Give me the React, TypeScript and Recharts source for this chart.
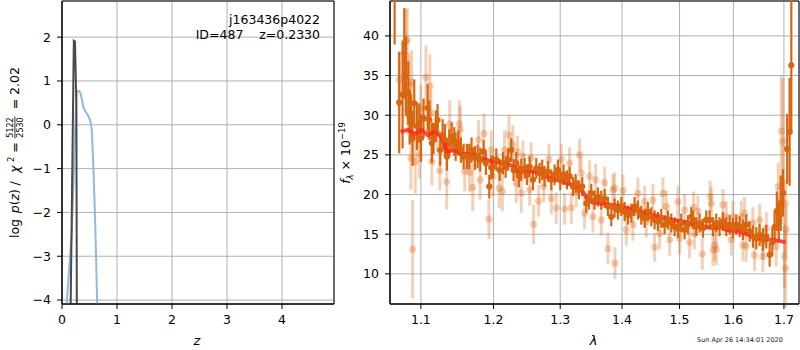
import {
  CartesianGrid,
  ComposedChart,
  ErrorBar,
  Line,
  LineChart,
  ReferenceArea,
  Scatter,
  XAxis,
  YAxis,
} from "recharts";

// left panel: log p(z)
const zTicks = [0, 1, 2, 3, 4];
const logpTicks = [-4, -3, -2, -1, 0, 1, 2];
const pzCurve: [number, number][] = [
  [0.055, -4.6], [0.085, -4.09], [0.13, -3.3], [0.176, -2.5], [0.21, -1.3], [0.236, -0.2],
  [0.255, 0.45], [0.267, 0.72], [0.285, 0.77], [0.31, 0.77], [0.335, 0.72], [0.358, 0.6],
  [0.385, 0.42], [0.418, 0.32], [0.46, 0.24], [0.497, 0.15], [0.52, 0.06], [0.54, -0.1],
  [0.555, -0.5], [0.57, -0.96], [0.585, -1.5], [0.6, -2.1], [0.615, -2.8], [0.63, -3.6],
  [0.64, -4.1], [0.65, -4.6],
];
const chi2Curve: [number, number][] = [
  [0.15, -4.6], [0.158, -4.09], [0.215, 1.92], [0.236, 1.9], [0.262, 0.4], [0.27, -4.6],
];

// right panel: spectrum
const lamTicks = [1.1, 1.2, 1.3, 1.4, 1.5, 1.6, 1.7];
const fluxTicks = [10, 15, 20, 25, 30, 35, 40];

// [lambda, flux, err]
const darkPoints: [number, number, number][] = [
  [1.0659, 45.5, 6.6], [1.0718, 31.6, 6.4], [1.0761, 32.6, 6.8], [1.0783, 37.8, 5.7],
  [1.0804, 34.9, 5.0], [1.0835, 32.8, 4.0], [1.0852, 29.8, 3.5], [1.0869, 29.6, 3.0],
  [1.0891, 27.1, 3.5], [1.0913, 31.5, 3.0], [1.0948, 28.6, 3.0], [1.0979, 29.0, 2.5],
  [1.1, 27.1, 3.0], [1.1035, 29.6, 2.5], [1.1089, 30.9, 3.0], [1.1111, 29.4, 2.5],
  [1.1146, 26.5, 2.5], [1.1168, 27.1, 2.0], [1.12, 28.6, 2.0], [1.1222, 29.4, 2.0],
  [1.1258, 25.6, 2.0], [1.129, 27.5, 2.0], [1.1322, 26.9, 2.0], [1.1349, 24.8, 1.8],
  [1.1381, 26.5, 1.8], [1.1413, 27.3, 1.8], [1.1449, 26.7, 1.8], [1.1468, 26.05, 1.8],
  [1.1504, 26.5, 1.6], [1.1541, 25.6, 1.6], [1.1578, 24.8, 1.6], [1.1624, 24.8, 1.6],
  [1.1657, 24.8, 1.6], [1.1689, 25.6, 1.6], [1.1736, 24.6, 1.5], [1.1774, 24.8, 1.5],
  [1.1811, 24.4, 1.5], [1.1859, 25.4, 1.5], [1.1892, 23.95, 1.5], [1.194, 21.0, 1.5],
  [1.1968, 23.4, 1.5], [1.1992, 23.5, 1.4], [1.2041, 24.4, 1.4], [1.2089, 23.1, 1.4],
  [1.2137, 23.95, 1.4], [1.2176, 23.5, 1.4], [1.221, 24.4, 1.4], [1.2259, 25.6, 1.5],
  [1.2293, 23.1, 1.4], [1.2333, 23.95, 1.4], [1.2372, 22.3, 1.4], [1.2407, 23.1, 1.4],
  [1.2457, 23.3, 1.3], [1.2491, 22.5, 1.3], [1.2532, 23.5, 1.3], [1.2582, 21.85, 1.3],
  [1.2632, 23.3, 1.3], [1.2683, 22.7, 1.3], [1.2723, 23.1, 1.3], [1.2759, 22.3, 1.3],
  [1.281, 22.9, 1.3], [1.2862, 21.85, 1.3], [1.2913, 22.5, 1.3], [1.2965, 23.1, 1.3],
  [1.3001, 21.85, 1.3], [1.3053, 22.5, 1.3], [1.3105, 21.85, 1.2], [1.3147, 22.3, 1.2],
  [1.32, 21.0, 1.2], [1.3242, 21.4, 1.2], [1.3295, 20.6, 1.2], [1.3349, 21.0, 1.2],
  [1.3413, 18.9, 1.2], [1.3456, 19.3, 1.2], [1.3494, 20.15, 1.2], [1.3547, 19.3, 1.2],
  [1.3602, 19.7, 1.2], [1.3656, 19.3, 1.2], [1.3711, 19.5, 1.2], [1.3766, 18.5, 1.2],
  [1.3821, 17.2, 1.2], [1.3876, 18.3, 1.2], [1.3932, 18.05, 1.2], [1.3988, 18.5, 1.2],
  [1.4044, 17.85, 1.2], [1.41, 17.4, 1.2], [1.4157, 17.65, 1.2], [1.4213, 18.5, 1.2],
  [1.427, 18.05, 1.2], [1.4327, 17.4, 1.2], [1.4385, 17.0, 1.2], [1.4442, 17.85, 1.2],
  [1.45, 17.2, 1.2], [1.4558, 16.8, 1.2], [1.4616, 16.6, 1.2], [1.4675, 17.0, 1.2],
  [1.4734, 16.2, 1.2], [1.4793, 16.8, 1.2], [1.4852, 16.4, 1.2], [1.4912, 15.95, 1.2],
  [1.4971, 15.75, 1.2], [1.5031, 16.4, 1.2], [1.5092, 15.55, 1.2], [1.5152, 16.2, 1.2],
  [1.5213, 17.2, 1.2], [1.5243, 16.8, 1.2], [1.5304, 15.95, 1.2], [1.5365, 16.4, 1.2],
  [1.5427, 15.75, 1.2], [1.5488, 16.8, 1.2], [1.555, 16.8, 1.2], [1.5613, 15.95, 1.2],
  [1.5675, 16.4, 1.2], [1.5738, 15.95, 1.2], [1.5801, 16.6, 1.2], [1.5864, 15.95, 1.2],
  [1.5928, 16.2, 1.2], [1.5992, 15.75, 1.3], [1.6056, 16.2, 1.3], [1.612, 15.95, 1.3],
  [1.6185, 15.55, 1.3], [1.625, 16.2, 1.3], [1.6315, 15.35, 1.3], [1.638, 14.7, 1.4],
  [1.6446, 14.5, 1.4], [1.6511, 14.9, 1.4], [1.6578, 14.3, 1.4], [1.6644, 14.7, 1.5],
  [1.6711, 12.4, 1.5], [1.6765, 14.0, 1.8], [1.6811, 15.9, 2.0], [1.6856, 17.9, 2.5],
  [1.6896, 16.6, 2.5], [1.6935, 18.9, 3.5], [1.6982, 20.2, 3.0], [1.7066, 25.75, 4.4],
  [1.7116, 27.9, 6.8], [1.7151, 36.3, 8.5],
];

const lightPoints: [number, number, number][] = [
  [1.0718, 34.5, 3.5], [1.0804, 39.3, 4.0], [1.0822, 39.5, 4.0], [1.0826, 30.6, 3.0],
  [1.0848, 33.8, 4.0], [1.0869, 24.6, 4.0], [1.088, 34.2, 4.0], [1.0891, 13.1, 6.2],
  [1.0926, 24.15, 4.0], [1.0979, 25.0, 3.0], [1.1, 30.8, 3.0], [1.1066, 34.8, 4.0],
  [1.112, 33.7, 4.0], [1.1132, 30.3, 3.0], [1.1146, 24.15, 3.0], [1.1222, 27.8, 2.5],
  [1.1253, 23.0, 2.5], [1.1345, 21.6, 3.5], [1.1387, 28.9, 3.0], [1.1519, 28.9, 3.0],
  [1.1532, 28.2, 3.0], [1.1594, 22.9, 2.5], [1.1661, 22.8, 2.5], [1.1706, 20.9, 3.0],
  [1.1787, 26.9, 2.5], [1.1809, 21.85, 2.5], [1.1863, 27.7, 2.5], [1.1935, 16.9, 2.5],
  [1.1968, 25.6, 2.5], [1.1992, 22.3, 2.5], [1.2083, 20.8, 2.5], [1.2128, 20.4, 2.5],
  [1.2161, 25.6, 2.5], [1.2225, 27.5, 2.5], [1.2283, 26.25, 2.5], [1.2333, 21.4, 2.5],
  [1.2352, 25.4, 2.0], [1.2407, 20.2, 2.5], [1.2432, 24.8, 2.0], [1.2532, 20.6, 2.0],
  [1.2553, 24.6, 2.0], [1.2592, 16.25, 2.5], [1.2668, 19.2, 2.0], [1.2746, 21.0, 2.0],
  [1.2825, 24.4, 2.0], [1.2862, 19.5, 2.0], [1.2938, 18.3, 2.0], [1.3017, 24.4, 2.0],
  [1.3069, 18.2, 2.0], [1.3147, 23.95, 2.0], [1.3174, 18.3, 2.0], [1.3253, 20.4, 2.0],
  [1.3306, 25.0, 2.0], [1.3332, 22.7, 2.0], [1.3386, 17.65, 2.0], [1.3467, 22.3, 2.0],
  [1.352, 17.2, 2.0], [1.3564, 21.85, 2.0], [1.3656, 16.8, 2.0], [1.3711, 21.5, 2.0],
  [1.3766, 13.2, 2.0], [1.3848, 20.6, 2.0], [1.3876, 20.8, 2.0], [1.3882, 11.35, 2.0],
  [1.4016, 20.5, 2.0], [1.4072, 15.55, 2.0], [1.4185, 16.2, 2.0], [1.427, 20.15, 2.0],
  [1.4385, 19.1, 2.0], [1.4413, 16.6, 2.0], [1.4529, 19.3, 2.0], [1.4558, 13.35, 1.8],
  [1.4646, 15.1, 2.0], [1.4705, 20.15, 2.0], [1.4764, 18.5, 2.0], [1.4823, 14.3, 2.0],
  [1.4971, 19.1, 2.0], [1.5001, 14.5, 2.0], [1.5092, 18.05, 2.0], [1.5182, 13.95, 2.0],
  [1.5256, 18.4, 2.0], [1.5273, 15.1, 2.0], [1.5334, 17.85, 2.0], [1.5415, 12.5, 2.0],
  [1.5561, 19.75, 2.0], [1.5582, 18.9, 2.0], [1.5613, 13.0, 2.0], [1.5644, 13.6, 2.0],
  [1.5676, 13.1, 2.0], [1.5801, 18.7, 2.0], [1.5864, 17.2, 2.0], [1.596, 14.3, 2.0],
  [1.5992, 17.2, 2.0], [1.6152, 17.2, 2.0], [1.6185, 13.6, 2.0], [1.6215, 17.65, 2.0],
  [1.6248, 13.5, 2.0], [1.638, 16.4, 2.0], [1.6411, 12.35, 2.0], [1.6511, 16.8, 2.0],
  [1.6576, 12.2, 2.0], [1.6578, 13.85, 2.0], [1.6644, 15.75, 2.0], [1.6842, 13.45, 2.5],
  [1.6884, 21.0, 3.0], [1.6947, 28.0, 7.0], [1.6947, 19.3, 3.0], [1.698, 26.7, 8.0],
  [1.7012, 12.2, 4.0], [1.7032, 10.7, 5.0], [1.7032, 18.9, 3.0], [1.7045, 15.6, 3.0],
];

const modelSpec: [number, number][] = [
  [1.0735, 27.93], [1.0833, 28.15], [1.0917, 27.6], [1.1005, 28.15], [1.1092, 27.5],
  [1.1182, 27.9], [1.1273, 27.3], [1.1349, 25.4], [1.1454, 25.6], [1.1546, 25.1],
  [1.1708, 25.1], [1.1802, 24.6], [1.1992, 24.15], [1.2161, 24.0], [1.226, 23.65],
  [1.2382, 22.8], [1.2506, 23.0], [1.2683, 22.7], [1.2862, 22.05], [1.3043, 21.6],
  [1.3253, 21.0], [1.3359, 20.35], [1.3439, 19.3], [1.352, 18.98], [1.3739, 18.8],
  [1.396, 18.5], [1.4185, 18.15], [1.4415, 17.6], [1.4646, 17.2], [1.4882, 16.8],
  [1.5061, 16.6], [1.5303, 16.2], [1.5549, 15.83], [1.5704, 15.75], [1.5769, 16.05],
  [1.5864, 15.55], [1.6119, 15.35], [1.6378, 14.7], [1.6643, 14.35], [1.6843, 14.2],
  [1.7032, 14.0],
];

const FONT = "DejaVu Sans";
const ORANGE = "#d9660f";
const ORANGE_LIGHT = "rgba(217,99,15,0.3)";
const tickStyle = { fontSize: 12.5, fill: "#000", fontFamily: FONT };
const minus = (v: number) => (v < 0 ? "\u2212" + Math.abs(v) : String(v));

const pzData = pzCurve.map(([z, v]) => ({ z, v }));
const chi2Data = chi2Curve.map(([z, v]) => ({ z, v }));
const darkData = darkPoints.map(([lam, f, e]) => ({ lam, f, e }));
const lightData = lightPoints.map(([lam, f, e]) => ({ lam, f, e }));
const modelData = modelSpec.map(([lam, f]) => ({ lam, f }));

export default function App() {
  return (
    <div style={{ position: "absolute", left: 0, top: 0, width: 800, height: 350, background: "#fff", fontFamily: FONT }}>
      <div style={{ position: "absolute", left: 0, top: 0 }}>
        <LineChart width={340} height={350} margin={{ top: 1, right: 6, bottom: 16, left: 22 }}>
          <CartesianGrid stroke="#b0b0b0" />
          <XAxis type="number" dataKey="z" domain={[0, 4.945]} ticks={zTicks} allowDataOverflow
            tick={tickStyle} tickSize={5} tickMargin={6} stroke="#000" height={30} />
          <YAxis type="number" dataKey="v" domain={[-4.09, 2.825]} ticks={logpTicks} allowDataOverflow
            tick={tickStyle} tickSize={5} tickMargin={6} stroke="#000" width={40} tickFormatter={minus} />
          <Line data={pzData} dataKey="v" stroke="#8fbbd9" strokeWidth={2} dot={false} isAnimationActive={false} />
          <Line data={chi2Data} dataKey="v" stroke="#4a4a4a" strokeWidth={2} dot={false} isAnimationActive={false} />
          <ReferenceArea x1={0} x2={4.945} y1={-4.09} y2={2.825} fill="none" stroke="#000" strokeWidth={1} />
        </LineChart>
      </div>
      <div style={{ position: "absolute", left: 340, top: 0 }}>
        <ComposedChart width={460} height={350} margin={{ top: 1, right: 1, bottom: 16, left: 10 }}>
          <CartesianGrid stroke="#b0b0b0" />
          <XAxis type="number" dataKey="lam" scale="log" domain={[1.06, 1.731]} ticks={lamTicks} allowDataOverflow
            tick={tickStyle} tickSize={5} tickMargin={6} stroke="#000" height={30} tickFormatter={(v: number) => v.toFixed(1)} />
          <YAxis type="number" dataKey="f" domain={[6.2, 44.4]} ticks={fluxTicks} allowDataOverflow
            tick={tickStyle} tickSize={5} tickMargin={6} stroke="#000" width={40} />
          <Scatter data={lightData} isAnimationActive={false}
            shape={(p: any) => <circle cx={p.cx} cy={p.cy} r={3.6} fill={ORANGE_LIGHT} />}>
            <ErrorBar dataKey="e" direction="y" width={0} stroke={ORANGE_LIGHT} strokeWidth={3} />
          </Scatter>
          <Scatter data={darkData} isAnimationActive={false}
            shape={(p: any) => <circle cx={p.cx} cy={p.cy} r={3.1} fill={ORANGE} />}>
            <ErrorBar dataKey="e" direction="y" width={0} stroke={ORANGE} strokeWidth={2.2} />
          </Scatter>
          <Line data={modelData} dataKey="f" stroke="#ff2418" strokeOpacity={0.82} strokeWidth={4} dot={false} isAnimationActive={false} />
          <ReferenceArea x1={1.06} x2={1.731} y1={6.2} y2={44.4} fill="none" stroke="#000" strokeWidth={1} />
        </ComposedChart>
      </div>
      <svg width={800} height={350} style={{ position: "absolute", left: 0, top: 0, pointerEvents: "none" }} fontFamily={FONT}>
        <text x={320} y={24} textAnchor="end" fontSize={12.5}>j163436p4022</text>
        <text x={320} y={39} textAnchor="end" fontSize={12.5} style={{ whiteSpace: "pre" }}>ID=487    z=0.2330</text>
        <g transform="translate(18.5,153) rotate(-90)" fontSize={12.5}>
          <text x={-85} y={0}>log</text>
          <text x={-60.3} y={0}><tspan fontStyle="italic">p</tspan>(<tspan fontStyle="italic">z</tspan>)</text>
          <text x={-30.3} y={0} textAnchor="middle">/</text>
          <text x={-20} y={0} fontStyle="italic">χ</text>
          <text x={-9} y={-5} fontSize={8.5}>2</text>
          <text x={5.5} y={0} textAnchor="middle">=</text>
          <text x={25.5} y={-5.2} fontSize={8} textAnchor="middle">5122</text>
          <line x1={14.5} x2={36.5} y1={-3.6} y2={-3.6} stroke="#000" strokeWidth={0.8} />
          <text x={25.5} y={4.2} fontSize={8} textAnchor="middle">2530</text>
          <text x={49} y={0} textAnchor="middle">=</text>
          <text x={58} y={0}>2.02</text>
        </g>
        <text x={197} y={345} textAnchor="middle" fontSize={13} fontStyle="italic">z</text>
        <g transform="translate(350,153) rotate(-90)">
          <text textAnchor="middle" fontSize={12.5}>
            <tspan fontStyle="italic">f</tspan>
            <tspan fontSize={8.5} fontStyle="italic" dy={2.5}>λ</tspan>
            <tspan dy={-2.5}> × 10</tspan>
            <tspan fontSize={8.5} dy={-5}>−19</tspan>
          </text>
        </g>
        <text x={593.5} y={345} textAnchor="middle" fontSize={13} fontStyle="italic">λ</text>
        <text x={697} y={342} fontSize={6.5} fill="#222">Sun Apr 26 14:34:01 2020</text>
      </svg>
    </div>
  );
}
